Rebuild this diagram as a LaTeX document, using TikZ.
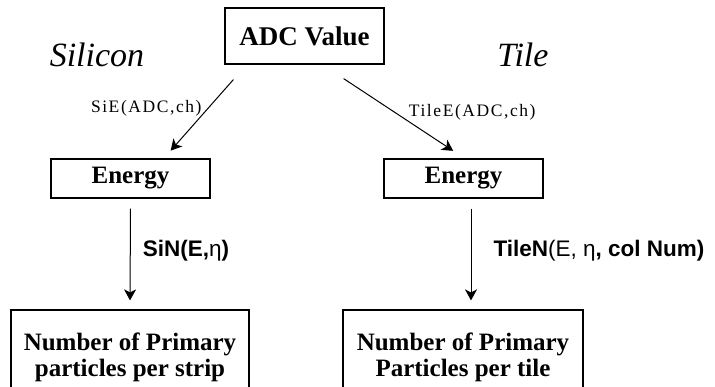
\documentclass[tikz,border=0pt]{standalone}
\usepackage{fontspec}
\usepackage{amsmath}
\setmainfont{Liberation Serif}
\setsansfont{Liberation Sans}
\newfontfamily\fnlabel[LetterSpace=9]{Liberation Serif}
\usetikzlibrary{arrows.meta}

\begin{document}
\begin{tikzpicture}[x=1pt, y=-1pt, shorten >=1pt, auto, line width=0.8pt,
   box_style/.style={rectangle, draw=black, line width=1.2pt, inner sep=0pt, align=center,
     font=\fontsize{25}{26}\selectfont\bfseries},
   side_style/.style={font=\fontsize{34}{36}\selectfont\itshape},
   edge_style/.style={draw=black, line width=1pt, -{Stealth[length=11pt,width=12pt,inset=3pt]}},
   fn_style/.style={font=\fontsize{17.5}{18}\selectfont\fnlabel, inner sep=0pt},
   map_style/.style={font=\fontsize{22.5}{24}\selectfont\sffamily, inner sep=0pt}]

    \useasboundingbox (0,0) rectangle (715,387);

    \node[box_style, minimum width=159pt, minimum height=56pt,
       font=\fontsize{27}{28}\selectfont\bfseries] (adc) at (304.5,36) {ADC Value};
    \node[side_style] (si) at (97,55) {Silicon};
    \node[side_style] (tile) at (523,55) {Tile};

    \node[box_style, minimum width=159pt, minimum height=39pt] (eL) at (130.5,178.5) {Energy};
    \node[box_style, minimum width=159pt, minimum height=39pt] (eR) at (463.5,178.5) {Energy};

    \node[box_style, minimum width=238pt, minimum height=94pt] (nL) at (130,357)
       {Number of Primary\\particles per strip};
    \node[box_style, minimum width=240pt, minimum height=94pt] (nR) at (463,357)
       {Number of Primary\\Particles per tile};

    \draw[edge_style] ([xshift=9pt,yshift=-15pt]adc.south west) --
       node[fn_style, pos=0.4, anchor=east, xshift=-6pt]{SiE(ADC,ch)}
       ([xshift=39.5pt,yshift=7pt]eL.north);
    \draw[edge_style] ([xshift=-41pt,yshift=-14pt]adc.south east) --
       node[fn_style, pos=0.46, anchor=west, xshift=14pt]{TileE(ADC,ch)}
       ([xshift=-9.5pt,yshift=7pt]eR.north);
    \draw[edge_style] ([yshift=-10pt]eL.south) --
       node[map_style, pos=0.45, anchor=west, xshift=12pt]{\textbf{SiN(E,}η\textbf{)}}
       ([yshift=8pt]nL.north);
    \draw[edge_style] ([xshift=7.5pt,yshift=-10pt]eR.south) --
       node[map_style, pos=0.45, anchor=west, xshift=22pt]{\textbf{TileN}(E, η\textbf{, col Num)}}
       ([xshift=8pt,yshift=8pt]nR.north);
    \end{tikzpicture}
\end{document}
